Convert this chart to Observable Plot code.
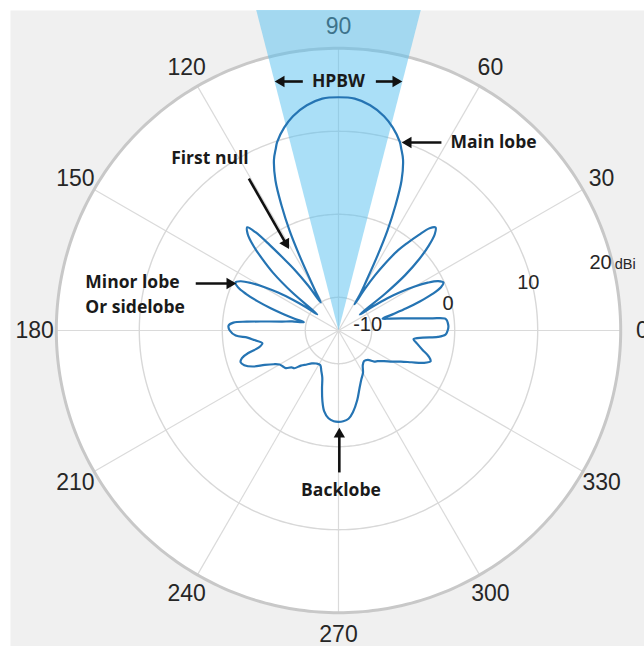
<!DOCTYPE html>
<html>
<head>
<meta charset="utf-8">
<script src="https://cdn.jsdelivr.net/npm/d3@7"></script>
<script src="https://cdn.jsdelivr.net/npm/@observablehq/plot@0.6"></script>
<style>
  html, body { margin: 0; padding: 0; background: #ffffff; }
</style>
</head>
<body>
<div id="chart"></div>
<script>
// Radial axis (dBi): centre of the plot sits at rMin, outer edge at rMax
const rMin = -14;
const rMax = 20;
const ringLevels = [-10, 0, 10];
const rTickLevels = [-10, 0, 10];
const rTickAngle = 14.5;
const rUnit = "dBi";

// Angular axis (degrees)
const angleTicks = [0, 30, 60, 90, 120, 150, 180, 210, 240, 270, 300, 330];

// Half-power beamwidth edges (degrees)
const hpbw = [75.6, 104.4];

// Radiation pattern: angle (deg) and gain (dBi)
const patternAngles = [
  0, 2, 4, 5.5, 6.4, 7.4, 8.9, 10.9, 13, 15,
  16.6, 18.1, 19.6, 21.2, 22.9, 24.6, 26.4, 28.2, 30, 31.8, 33.5, 35.2, 37,
  38.3, 39.7, 41.5, 43.3, 45, 46.7, 48.3, 50, 51.8, 53.6, 55.2, 56.5, 57.6, 58.6,
  59.3, 60.75, 62.5, 63.9, 65.5, 67.2, 69.3, 71, 72, 75, 78, 82, 86, 90,
  94, 98, 102, 105, 108, 109, 110.7, 112.8, 114.5, 116.1, 117.5, 119.25, 120.7, 122.3,
  124, 125.8, 127.4, 128.8, 130.2, 131.5, 133.2, 135, 136.8, 138.6, 140.6, 142.8,
  144.4, 146.1, 147.9, 149.7, 151.5, 153.3, 155, 156.7, 158.4, 160.1, 161.8, 163.4, 165, 166.5,
  169, 171, 173, 174.5, 175.7, 177.4, 180, 182.8, 184.5, 186.5, 189.5, 192, 194, 196, 198,
  200.2, 202.8, 205, 207.5, 210, 212.5, 215.5, 218, 220.5, 223, 227, 231, 236, 242,
  247, 251, 254, 257, 260, 263.5, 267, 270, 273, 276.5, 280, 285, 290, 295, 300, 305, 310,
  315, 319, 322, 326, 330, 333.5, 336.5, 339, 341.5, 344, 347, 350.5, 353.5, 355.2, 356.3, 357.8
];
const patternDb = [
  -0.85, -0.75, -0.8, -0.9, -1.1, -2.6, -4.5, -6.3, -7.6, -8.5,
  -7.2, -5.4, -3.6, -1.9, -0.6, -0.1, -0.6, -1.8, -3.4, -5.2, -7.0, -9.2, -10.8,
  -6.8, -3.6, -1.0, 1.0, 2.4, 3.05, 2.5, 1.0, -0.6, -2.2, -4.2, -6.0, -8.0, -10.3,
  -8.8, -7.1, -3.8, -0.6, 2.55, 5.6, 8.0, 9.2, 9.9, 11.3, 12.4, 13.4, 14.0, 14.1,
  14.0, 13.4, 12.4, 11.3, 9.9, 9.2, 8.0, 5.6, 2.55, -0.6, -3.8, -7.1, -8.8, -10,
  -7.5, -5.0, -3.0, -0.8, 1.5, 2.6, 2.0, 0.6, -1.4, -3.5, -6.8, -10.8,
  -9.2, -7.3, -5.4, -3.6, -2.0, -0.8, -0.3, -0.8, -2.0, -3.6, -5.4, -7.1, -8.6, -9.7,
  -8.3, -7.1, -5.1, -2.9, -1.3, -0.75, -0.9, -1.6, -3.0, -3.8, -4.7, -4.2, -2.8, -1.9, -1.6,
  -1.9, -2.8, -4.2, -5.2, -5.8, -6.0, -6.2, -6.8, -7.0, -7.8, -8.4, -8.9, -9.2, -9.3,
  -8.7, -8.0, -6.8, -5.35, -4.1, -3.35, -3.05, -3.0, -3.05, -3.3, -4.0, -5.3, -6.6, -7.5, -8.1, -8.9, -9.2,
  -9.0, -8.3, -8.0, -7.4, -6.5, -5.6, -4.4, -3.1, -2.3, -2.7, -3.6, -4.4, -4.9, -3.8, -2.0, -1.1
];

// Callout labels and arrows, in plot units (dB from the centre along x / y)
const calloutStart = [
  {label: "Main lobe", x: 13.5, y: 22.65},
  {label: "Minor lobe", x: -30.5, y: 5.8},
  {label: "Or sidelobe", x: -30.5, y: 2.8}
];
const calloutMiddle = [
  {label: "HPBW", x: 0, y: 30.0},
  {label: "First null", x: -15.5, y: 20.7},
  {label: "Backlobe", x: 0.3, y: -19.3}
];
const calloutArrows = [
  {x1: -4.3, y1: 30.0, x2: -7.6, y2: 30.0},
  {x1: 4.5, y1: 30.0, x2: 7.6, y2: 30.0},
  {x1: 12.4, y1: 22.65, x2: 7.7, y2: 22.65},
  {x1: -10.8, y1: 18.3, x2: -6.0, y2: 9.9},
  {x1: -17.2, y1: 5.66, x2: -12.4, y2: 5.66},
  {x1: 0.1, y1: -17.1, x2: 0.1, y2: -11.8}
];

// ---- layout ----
const width = 644, height = 646;
const panelLeft = 10, panelTop = 10;
const cx = 338, cy = 330;          // pixel position of the polar origin
const pxPerDb = 8.3;

const rad = d => d * Math.PI / 180;
const radius = db => Math.max(db, rMin) - rMin;
const px = (deg, db) => radius(db) * Math.cos(rad(deg));
const py = (deg, db) => radius(db) * Math.sin(rad(deg));

const ring = level => d3.range(0, 360, 1).map(a => ({a, level}));
const rings = ringLevels.flatMap(ring);
const outer = ring(rMax);

const pattern = patternAngles.map((a, i) => ({a, db: patternDb[i]}));

const wedgeReach = rMin + 60; // long enough to run past the top of the panel
const wedge = [
  {x: 0, y: 0},
  {x: px(hpbw[0], wedgeReach), y: py(hpbw[0], wedgeReach)},
  {x: px(hpbw[1], wedgeReach), y: py(hpbw[1], wedgeReach)}
];

const labelLevel = rMax + 2.6; // angle labels sit just outside the rim

// triangular arrow heads, backed off from the tip so the point lands on it
const headBack = 0.7;
const heads = calloutArrows.map(d => {
  const dx = d.x2 - d.x1, dy = d.y2 - d.y1, len = Math.hypot(dx, dy);
  return {
    x: d.x2 - dx / len * headBack,
    y: d.y2 - dy / len * headBack,
    rot: Math.atan2(dx, dy) * 180 / Math.PI,
    x1: d.x1, y1: d.y1
  };
});

const axisFont = "Liberation Sans, Arial, sans-serif";
const noteFont = "'Open Sans', 'Noto Sans', sans-serif";

const chart = Plot.plot({
  width, height,
  marginLeft: panelLeft, marginTop: panelTop, marginRight: 0, marginBottom: 0,
  x: {domain: [(panelLeft - cx) / pxPerDb, (width - cx) / pxPerDb], axis: null},
  y: {domain: [(cy - height) / pxPerDb, (cy - panelTop) / pxPerDb], axis: null},
  style: {background: "#ffffff"},
  marks: [
    // grey panel
    Plot.frame({fill: "#f0f0f0", stroke: "none"}),
    // white polar disk
    Plot.line(outer, {x: d => px(d.a, d.level), y: d => py(d.a, d.level),
      fill: "#ffffff", stroke: "none", curve: "linear-closed"}),
    // spokes every 30 degrees
    Plot.link(angleTicks, {x1: 0, y1: 0,
      x2: a => px(a, rMax), y2: a => py(a, rMax),
      stroke: "#dadada", strokeWidth: 1.2}),
    // inner rings
    Plot.line(rings, {x: d => px(d.a, d.level), y: d => py(d.a, d.level), z: "level",
      stroke: "#d8d8d8", strokeWidth: 1.4, curve: "linear-closed"}),
    // rim
    Plot.line(outer, {x: d => px(d.a, d.level), y: d => py(d.a, d.level),
      stroke: "#c8c8c8", strokeWidth: 3, curve: "linear-closed"}),
    // angle labels
    Plot.text(angleTicks, {x: a => px(a, labelLevel), y: a => py(a, labelLevel),
      text: a => String(a), fontSize: 23, fill: "#262626", fontFamily: axisFont}),
    // radial tick labels
    Plot.text(rTickLevels, {x: v => px(rTickAngle, v), y: v => py(rTickAngle, v),
      text: v => String(v), fontSize: 20, fill: "#262626", dx: -3, dy: 2, fontFamily: axisFont}),
    Plot.text([rMax], {x: v => px(rTickAngle, v), y: v => py(rTickAngle, v),
      text: v => String(v), fontSize: 20, fill: "#262626", textAnchor: "end", dy: 3, fontFamily: axisFont}),
    Plot.text([rMax], {x: v => px(rTickAngle, v), y: v => py(rTickAngle, v),
      text: () => rUnit, fontSize: 14.5, fill: "#262626", textAnchor: "start", dx: 3, dy: 5, fontFamily: axisFont}),
    // half-power beamwidth sector
    Plot.line(wedge, {x: "x", y: "y", curve: "linear-closed",
      fill: "#56bff0", fillOpacity: 0.5, stroke: "none", clip: true}),
    // radiation pattern
    Plot.line(pattern, {x: d => px(d.a, d.db), y: d => py(d.a, d.db),
      curve: "catmull-rom-closed", stroke: "#2574b3", strokeWidth: 2.2}),
    // callouts
    Plot.link(heads, {x1: "x1", y1: "y1", x2: "x", y2: "y", stroke: "#111111", strokeWidth: 2.6}),
    Plot.dot(heads, {x: "x", y: "y", symbol: "triangle", r: 4.2, rotate: "rot",
      fill: "#111111", stroke: "none"}),
    Plot.text(calloutStart, {x: "x", y: "y", text: "label", textAnchor: "start",
      fontSize: 17.5, fontWeight: "bold", fill: "#1a1a1a", fontFamily: noteFont}),
    Plot.text(calloutMiddle, {x: "x", y: "y", text: "label", textAnchor: "middle",
      fontSize: 17.5, fontWeight: "bold", fill: "#1a1a1a", fontFamily: noteFont})
  ]
});

document.getElementById("chart").appendChild(chart);
</script>
</body>
</html>
